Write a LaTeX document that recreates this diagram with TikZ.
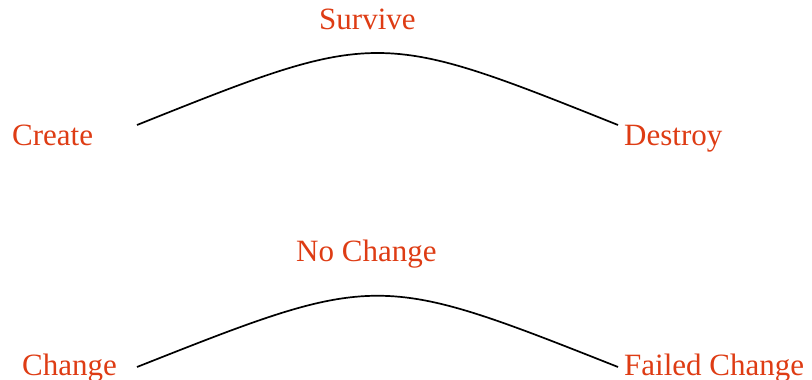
\documentclass[tikz,border=0pt]{standalone}
\usepackage{fontspec}
\setmainfont{Liberation Serif}
\definecolor{lbl}{RGB}{222,60,20}
\begin{document}
\begin{tikzpicture}[x=1pt,y=1pt,
  lab/.style={text=lbl,font=\fontsize{31}{36}\selectfont,inner sep=0pt,anchor=base west},
  arc/.style={draw=black,line width=1.7pt}]
\useasboundingbox (0,0) rectangle (812,380);
% top
\node[lab] (create) at (12,234) {Create};
\node[lab] (survive) at (319,350) {Survive};
\node[lab] (destroy) at (624,234) {Destroy};
\coordinate (a1) at (137,255);
\coordinate (b1) at (618,255);
\draw[arc] (a1) .. controls (377,351) and (378,351) .. (b1);
% bottom
\node[lab] (change) at (22,4) {Change};
\node[lab] (nochange) at (296,118) {No Change};
\node[lab] (failed) at (624,4) {Failed Change};
\coordinate (a2) at (137,13);
\coordinate (b2) at (618,13);
\draw[arc] (a2) .. controls (377,108) and (378,108) .. (b2);
\end{tikzpicture}
\end{document}
